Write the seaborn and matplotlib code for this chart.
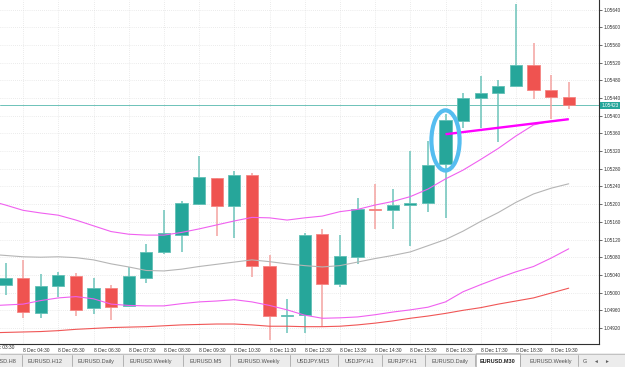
import numpy as np
import pandas as pd
import seaborn as sns
import matplotlib.pyplot as plt
from matplotlib.patches import Ellipse, Rectangle
from matplotlib.transforms import blended_transform_factory

sns.set_style('white')
plt.rcParams['font.family'] = ['Liberation Sans', 'DejaVu Sans']

# ----------------------------------------------------------------------
# EURUSD M30, 8 Dec  (bar times from 03:30, first drawn candle is 04:00)
# ----------------------------------------------------------------------
times = ['03:30', '04:00', '04:30', '05:00', '05:30', '06:00', '06:30', '07:00', '07:30',
         '08:00', '08:30', '09:00', '09:30', '10:00', '10:30', '11:00', '11:30', '12:00',
         '12:30', '13:00', '13:30', '14:00', '14:30', '15:00', '15:30', '16:00', '16:30',
         '17:00', '17:30', '18:00', '18:30', '19:00', '19:30', '20:00']

opens = [1.05017, 1.05034, 1.04953, 1.05015, 1.05037, 1.04965, 1.05011, 1.04970, 1.05032,
         1.05091, 1.05130, 1.05200, 1.05259, 1.05196, 1.05266, 1.05060, 1.04947, 1.04949,
         1.05132, 1.05019, 1.05081, 1.05188, 1.05187, 1.05197, 1.05203, 1.05290, 1.05389,
         1.05440, 1.05451, 1.05467, 1.05514, 1.05458, 1.05442]
closes = [1.05032, 1.04956, 1.05016, 1.05039, 1.04961, 1.05010, 1.04967, 1.05037, 1.05092,
          1.05134, 1.05202, 1.05261, 1.05196, 1.05267, 1.05061, 1.04947, 1.04949, 1.05131,
          1.05020, 1.05083, 1.05188, 1.05186, 1.05198, 1.05203, 1.05288, 1.05390, 1.05441,
          1.05451, 1.05466, 1.05514, 1.05458, 1.05442, 1.05423]
highs = [1.05067, 1.05074, 1.05042, 1.05047, 1.05044, 1.05032, 1.05017, 1.05059, 1.05110,
         1.05187, 1.05207, 1.05309, 1.05260, 1.05274, 1.05270, 1.05085, 1.04985, 1.05134,
         1.05143, 1.05130, 1.05213, 1.05245, 1.05234, 1.05321, 1.05343, 1.05403, 1.05452,
         1.05490, 1.05481, 1.05652, 1.05565, 1.05491, 1.05475]
lows = [1.04995, 1.04943, 1.04943, 1.04991, 1.04946, 1.04952, 1.04938, 1.04969, 1.05021,
        1.05087, 1.05092, 1.05197, 1.05129, 1.05123, 1.05035, 1.04893, 1.04908, 1.04908,
        1.04922, 1.05012, 1.05065, 1.05144, 1.05144, 1.05106, 1.05183, 1.05169, 1.05372,
        1.05371, 1.05341, 1.05467, 1.05437, 1.05392, 1.05415]

# indicator lines, one value per bar starting at 03:30
upper_band = [1.05209, 1.05198, 1.05186, 1.05180, 1.05175, 1.05164, 1.05151, 1.05138, 1.05132,
              1.05130, 1.05130, 1.05136, 1.05144, 1.05153, 1.05162, 1.05170, 1.05169, 1.05164,
              1.05169, 1.05173, 1.05183, 1.05188, 1.05198, 1.05206, 1.05217, 1.05234, 1.05257,
              1.05277, 1.05301, 1.05326, 1.05354, 1.05379, 1.05388, 1.05392]
middle_ma = [1.05087, 1.05084, 1.05081, 1.05080, 1.05081, 1.05079, 1.05074, 1.05065, 1.05058,
             1.05050, 1.05049, 1.05053, 1.05059, 1.05064, 1.05069, 1.05074, 1.05070, 1.05065,
             1.05061, 1.05058, 1.05061, 1.05069, 1.05077, 1.05084, 1.05092, 1.05106, 1.05120,
             1.05139, 1.05161, 1.05181, 1.05204, 1.05223, 1.05236, 1.05246]
lower_band = [1.04970, 1.04972, 1.04974, 1.04982, 1.04988, 1.04991, 1.04986, 1.04974, 1.04971,
              1.04970, 1.04970, 1.04975, 1.04979, 1.04981, 1.04984, 1.04979, 1.04971, 1.04961,
              1.04949, 1.04942, 1.04943, 1.04945, 1.04950, 1.04956, 1.04961, 1.04967, 1.04979,
              1.05002, 1.05018, 1.05033, 1.05047, 1.05059, 1.05078, 1.05099]
slow_ma = [1.04909, 1.04910, 1.04911, 1.04912, 1.04914, 1.04917, 1.04919, 1.04921, 1.04922,
           1.04923, 1.04925, 1.04927, 1.04928, 1.04929, 1.04929, 1.04927, 1.04924, 1.04924,
           1.04923, 1.04923, 1.04924, 1.04927, 1.04931, 1.04936, 1.04942, 1.04947, 1.04953,
           1.04960, 1.04966, 1.04974, 1.04981, 1.04988, 1.04999, 1.05010]

# hand drawn trendline (bar 16:30 -> 20:00) and marked bar
trend_bars = ['16:30', '20:00']
trend_prices = [1.05358, 1.05392]
marked_bar = '16:30'
marked_price = 1.05344
current_price = 1.05423

tabs = ['EURUSD.H12', 'EURUSD.Daily', 'EURUSD.Weekly', 'EURUSD.M5', 'EURUSD.Weekly',
        'USDJPY.M15', 'USDJPY.H1', 'EURJPY.H1', 'EURUSD.Daily', 'EURUSD.M30',
        'EURUSD.Weekly', 'G']
active_tab = 'EURUSD.M30'

# ----------------------------------------------------------------------
# colours
# ----------------------------------------------------------------------
bull, bear = '#26a69a', '#ef5350'
bull_wick, bear_wick = '#6cc4ba', '#f4a3a1'
bull_edge, bear_edge = '#62c0b6', '#f58583'

# ----------------------------------------------------------------------
# figure
# ----------------------------------------------------------------------
W, H = 625, 367
fig = plt.figure(figsize=(W / 100, H / 100), dpi=100)
ax = fig.add_axes([0, 23 / H, 599 / W, 344 / H])

bar_pos = {t: i - 1 for i, t in enumerate(times)}   # 04:00 -> 0
x = np.arange(len(opens))
o, c = np.array(opens), np.array(closes)
up = c >= o

# indicator lines via seaborn
lines = pd.DataFrame({
    'idx': np.arange(-1, len(opens)),
    'upper': upper_band, 'middle': middle_ma, 'lower': lower_band, 'slow': slow_ma,
}).melt(id_vars='idx', var_name='line', value_name='price')
palette = {'upper': '#f060f0', 'middle': '#b5b5b5', 'lower': '#f060f0', 'slow': '#f05656'}
sns.lineplot(data=lines, x='idx', y='price', hue='line', palette=palette,
             lw=0.8, legend=False, ax=ax, zorder=4)

# candles
ax.vlines(x, lows, highs, colors=np.where(up, bull_wick, bear_wick), lw=1.1, zorder=2)
body_h = np.maximum(np.abs(c - o), 0.000012)
ax.bar(x, body_h, bottom=np.minimum(o, c), width=0.7,
       color=np.where(up, bull, bear), edgecolor=np.where(up, bull_edge, bear_edge),
       lw=0.6, zorder=3)

# current price line
ax.axhline(current_price, color='#6cc2b8', lw=0.7, zorder=1)

# trendline + ellipse
ax.plot([bar_pos[t] for t in trend_bars], trend_prices, color='#ff00ff', lw=1.7,
        solid_capstyle='butt', zorder=6)
ax.add_patch(Ellipse((bar_pos[marked_bar], marked_price), 1.6, 0.00136,
                     fill=False, ec='#55bdf0', lw=3, zorder=7))

# axes
ax.set_xlim(-5.5 / 17.6, (599 - 5.5) / 17.6)
ax.set_ylim(1.05640 - (344 - 9.5) / 44236, 1.05640 + 9.5 / 44236)
ax.set_xlabel('')
ax.set_ylabel('')
for s in ['left', 'top']:
    ax.spines[s].set_visible(False)
for s in ['right', 'bottom']:
    ax.spines[s].set_color('#303030')
    ax.spines[s].set_linewidth(0.8)

yt = np.round(np.arange(1.04920, 1.05641, 0.0004), 5)
ax.set_yticks(yt)
ax.set_yticklabels([f'{v:.5f}' for v in yt])
ax.yaxis.tick_right()
ax.tick_params(axis='y', direction='out', length=2.2, width=0.5, pad=1,
               labelsize=3.4, colors='#303030')

hour_bars = [t for t in times[2:] if t.endswith(':30')]
ax.set_xticks([bar_pos[t] for t in hour_bars])
ax.set_xticklabels([f'8 Dec {t}' for t in hour_bars], ha='left')
ax.tick_params(axis='x', direction='out', length=2, width=0.5, pad=1,
               labelsize=3.5, colors='#303030')
ax.text(bar_pos['03:30'], -0.004, '8 Dec 03:30', fontsize=3.5, color='#303030',
        ha='left', va='top', clip_on=False,
        transform=blended_transform_factory(ax.transData, ax.transAxes))
ax.grid(True, color='#d9d9d9', lw=0.5, ls=(0, (1, 2)))

# price box on the axis
ax.text(1.004, current_price, f'{current_price:.5f}', fontsize=3.4, color='white',
        ha='left', va='center', clip_on=False,
        transform=blended_transform_factory(ax.transAxes, ax.transData),
        bbox=dict(boxstyle='square,pad=0.3', fc=bull, ec='none'))

# ----------------------------------------------------------------------
# tab strip at the bottom
# ----------------------------------------------------------------------
tab_ax = fig.add_axes([0, 0, 1, 14 / H])
tab_ax.set_xlim(0, W)
tab_ax.set_ylim(0, 14)
tab_ax.axis('off')
tab_ax.add_patch(Rectangle((0, 0), W, 14, fc='#ececec', ec='none'))
tab_ax.axhline(13.5, color='#b0b0b0', lw=0.5)

seps = [22, 72, 123, 183, 230, 290, 338, 382, 425, 475, 520, 578]
tab_x = [28, 78, 130, 190, 237, 297, 345, 388, 432, 480, 530, 583]
tab_ax.text(16, 5.5, 'EURUSD.H8', fontsize=4, color='#505050', ha='right', va='center')
for sx in seps:
    tab_ax.plot([sx, sx], [1, 12], color='#a8a8a8', lw=0.6)
for name, tx in zip(tabs, tab_x):
    if name == active_tab and tx == 480:
        tab_ax.add_patch(Rectangle((476, 0), 44, 14, fc='white', ec='#a8a8a8', lw=0.5))
        tab_ax.text(tx, 5.5, name, fontsize=4, color='#202020', ha='left', va='center',
                    fontweight='bold')
    else:
        tab_ax.text(tx, 5.5, name, fontsize=4, color='#505050', ha='left', va='center')
tab_ax.text(595, 5.5, '\u25c4', fontsize=3.5, color='#606060', ha='center', va='center')
tab_ax.text(606, 5.5, '\u25ba', fontsize=3.5, color='#606060', ha='center', va='center')

fig.savefig('out.png', dpi=100)
